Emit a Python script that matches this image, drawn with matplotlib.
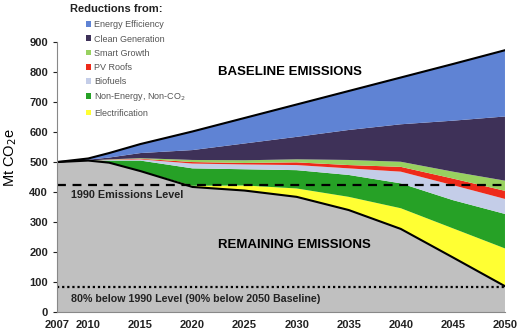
import matplotlib.pyplot as plt
from matplotlib.patches import Patch

years = [2007, 2010, 2012, 2015, 2020, 2025, 2030, 2035, 2040, 2045, 2050]

# remaining emissions after all reductions (bottom of the stack)
remaining = [500, 505, 498, 470, 417, 405, 384, 340, 277, 182, 86]

# wedge sizes, bottom to top [Mt CO2e]
electrification = [0, 0, 0, 0, 4, 17, 28, 44, 69, 97, 126]
non_energy = [0, 0, 7, 35, 58, 54, 61, 73, 83, 94, 115]
biofuels = [0, 0, 2, 4, 16, 16, 17, 22, 39, 50, 50]
pv_roofs = [0, 0, 1, 2, 5, 5, 9, 11, 16, 22, 27]
smart_growth = [0, 0, 1, 2, 7, 9, 10, 17, 17, 23, 34]
clean_gen = [0, 3, 6, 17, 33, 56, 75, 100, 125, 170, 214]
efficiency = [0, 4, 15, 30, 62, 85, 108, 130, 156, 189, 221]

wedges = [remaining, electrification, non_energy, biofuels, pv_roofs,
          smart_growth, clean_gen, efficiency]
colors = ["#c0c0c0", "#ffff33", "#26a126", "#c4cde8", "#ee2a1a",
          "#98d160", "#3e3158", "#5f83d4"]

legend_names = ["Energy Efficiency", "Clean Generation", "Smart Growth",
                "PV Roofs", "Biofuels", "Non-Energy, Non-CO$_2$", "Electrification"]
legend_colors = ["#5f83d4", "#3e3158", "#98d160", "#ee2a1a", "#c4cde8",
                 "#26a126", "#ffff33"]

level_1990 = 423
target = 0.2 * level_1990

plt.rcParams['font.family'] = ['Liberation Sans', 'DejaVu Sans']

fig = plt.figure(figsize=(5.2, 3.34), dpi=100)
ax = fig.add_axes([0.1096, 0.0659, 0.8615, 0.808])

ax.stackplot(years, *wedges, colors=colors, linewidth=0)

baseline = [sum(v) for v in zip(*wedges)]
ax.plot(years, baseline, color="black", lw=1.5)
ax.plot(years, remaining, color="black", lw=1.5)

ax.axhline(level_1990, color="black", lw=1.6, ls=(0, (4, 3)))
ax.axhline(target, color="black", lw=1.6, ls=(0, (1, 1.3)))

ax.text(2029.4, 800, "BASELINE EMISSIONS", ha="center", va="center",
        fontsize=9.5, fontweight="bold")
ax.text(2029.8, 222, "REMAINING EMISSIONS", ha="center", va="center",
        fontsize=9.5, fontweight="bold")
ax.text(2008.3, 391, "1990 Emissions Level", ha="left", va="center",
        fontsize=7.8, fontweight="bold", color="#222222")
ax.text(2008.3, 44, "80% below 1990 Level (90% below 2050 Baseline)", ha="left",
        va="center", fontsize=7.7, fontweight="bold", color="#222222")

ax.set_xlim(2007, 2050)
ax.set_ylim(0, 900)
ax.set_xticks([2007, 2010, 2015, 2020, 2025, 2030, 2035, 2040, 2045, 2050])
ax.set_yticks(range(0, 901, 100))
ax.tick_params(axis="both", labelsize=8, colors="#222222", length=3)
ax.tick_params(axis="x", length=0, pad=6)
for lab in ax.get_xticklabels() + ax.get_yticklabels():
    lab.set_fontweight("bold")
ax.set_ylabel("Mt CO$_2$e", fontsize=10.5, labelpad=4)
ax.yaxis.set_label_coords(-0.085, 0.574)

for side in ["top", "right"]:
    ax.spines[side].set_visible(False)
ax.spines["left"].set_color("#888888")
ax.spines["bottom"].set_color("#888888")

fig.text(70 / 520, 1 - 9 / 334, "Reductions from:", ha="left", va="center",
         fontsize=8, fontweight="bold", color="#222222")
handles = [Patch(facecolor=c, edgecolor="none") for c in legend_colors]
leg = fig.legend(handles, legend_names, loc="upper left",
                 bbox_to_anchor=(84 / 520, 1 - 18.5 / 334), frameon=False,
                 fontsize=6.5, handlelength=0.6, handleheight=0.6,
                 handletextpad=0.3, labelspacing=0.58, borderaxespad=0,
                 borderpad=0.2)
for t in leg.get_texts():
    t.set_color("#555555")

fig.savefig("out.png", dpi=100)
